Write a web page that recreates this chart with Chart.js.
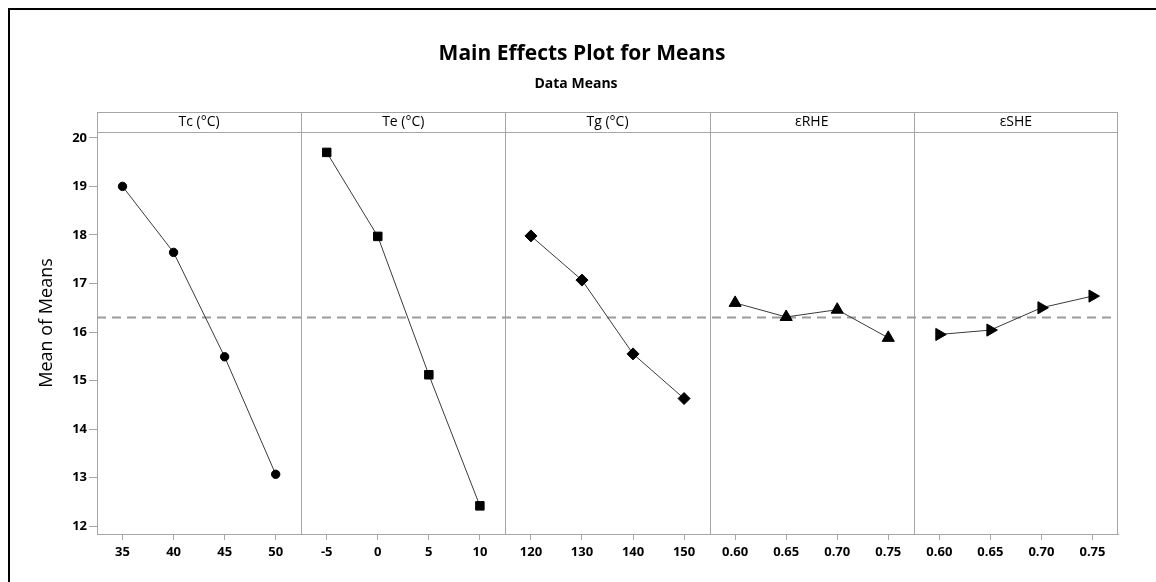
<!DOCTYPE html>
<html>
<head>
<meta charset="utf-8">
<script src="https://cdn.jsdelivr.net/npm/chart.js@4/dist/chart.umd.min.js"></script>
<style>
html,body{margin:0;padding:0;background:#fff;}
canvas{display:block;}
</style>
</head>
<body>
<canvas id="c" width="1156" height="582"></canvas>
<script>
// ---- data ----
const panelTitles = ['Tc (°C)', 'Te (°C)', 'Tg (°C)', 'εRHE', 'εSHE'];
const tcLevels  = ['35', '40', '45', '50'];
const tcMeans   = [19.00, 17.64, 15.49, 13.07];
const teLevels  = ['-5', '0', '5', '10'];
const teMeans   = [19.70, 17.97, 15.12, 12.42];
const tgLevels  = ['120', '130', '140', '150'];
const tgMeans   = [17.98, 17.07, 15.55, 14.63];
const rheLevels = ['0.60', '0.65', '0.70', '0.75'];
const rheMeans  = [16.60, 16.31, 16.46, 15.88];
const sheLevels = ['0.60', '0.65', '0.70', '0.75'];
const sheMeans  = [15.95, 16.04, 16.50, 16.74];
const grandMean = 16.30;
const yTicks = [12, 13, 14, 15, 16, 17, 18, 19, 20];

const levelSets = [tcLevels, teLevels, tgLevels, rheLevels, sheLevels];
const meanSets  = [tcMeans, teMeans, tgMeans, rheMeans, sheMeans];
const markerStyles = [
  {pointStyle: 'circle',   pointRadius: 4.2, rotation: 0},
  {pointStyle: 'rect',     pointRadius: 6,   rotation: 0},
  {pointStyle: 'rectRot',  pointRadius: 6,   rotation: 0},
  {pointStyle: 'triangle', pointRadius: 7,   rotation: 0},
  {pointStyle: 'triangle', pointRadius: 7,   rotation: 90}
];

const nLev = 4;
const xTickValues = [];
const xTickLabels = [];
levelSets.forEach((lv, p) => lv.forEach((l, j) => { xTickValues.push(p * nLev + j + 0.5); xTickLabels.push(l); }));

const datasets = meanSets.map((m, p) => ({
  data: m.map((v, j) => ({x: p * nLev + j + 0.5, y: v})),
  borderColor: '#3a3a3a',
  borderWidth: 1,
  pointStyle: markerStyles[p].pointStyle,
  pointRadius: markerStyles[p].pointRadius,
  pointRotation: markerStyles[p].rotation,
  pointBackgroundColor: '#000',
  pointBorderColor: '#000',
  pointBorderWidth: 1,
  tension: 0,
  order: 1
}));
datasets.push({
  data: [{x: 0, y: grandMean}, {x: levelSets.length * nLev, y: grandMean}],
  borderColor: '#9c9c9c',
  borderWidth: 2,
  borderDash: [9, 6],
  pointRadius: 0,
  order: 2
});

const GRID = '#a6a6a6';
const HEADER_H = 20;

const decor = {
  id: 'decor',
  beforeDatasetsDraw(chart) {
    const ctx = chart.ctx, a = chart.chartArea, xs = chart.scales.x;
    ctx.save();
    ctx.strokeStyle = GRID;
    ctx.lineWidth = 1;
    const top = a.top - HEADER_H;
    ctx.beginPath();
    ctx.moveTo(a.left, top + 0.5); ctx.lineTo(a.right, top + 0.5);
    ctx.moveTo(a.left, a.top + 0.5); ctx.lineTo(a.right, a.top + 0.5);
    ctx.moveTo(a.left + 0.5, top); ctx.lineTo(a.left + 0.5, a.bottom);
    ctx.moveTo(a.right - 0.5, top); ctx.lineTo(a.right - 0.5, a.bottom);
    for (let p = 1; p < levelSets.length; p++) {
      const px = Math.round(xs.getPixelForValue(p * nLev)) + 0.5;
      ctx.moveTo(px, top); ctx.lineTo(px, a.bottom);
    }
    ctx.stroke();
    ctx.fillStyle = '#000';
    ctx.font = '500 14px "Open Sans"';
    ctx.textAlign = 'center';
    ctx.textBaseline = 'middle';
    panelTitles.forEach((t, p) => {
      ctx.fillText(t, xs.getPixelForValue(p * nLev + nLev / 2), top + HEADER_H / 2);
    });
    ctx.restore();
  },
  afterDraw(chart) {
    const ctx = chart.ctx, a = chart.chartArea;
    ctx.save();
    // outer frame
    ctx.strokeStyle = '#000';
    ctx.lineWidth = 2;
    ctx.beginPath();
    ctx.moveTo(9, 582); ctx.lineTo(9, 9); ctx.lineTo(1156, 9);
    ctx.stroke();
    // titles
    ctx.fillStyle = '#000';
    ctx.textAlign = 'center';
    ctx.textBaseline = 'alphabetic';
    ctx.font = 'bold 21px "Open Sans"';
    ctx.fillText('Main Effects Plot for Means', 582, 60);
    ctx.font = 'bold 14px "Open Sans"';
    ctx.fillText('Data Means', 576, 88);
    // y title
    ctx.translate(47, (a.top - HEADER_H + a.bottom) / 2);
    ctx.rotate(-Math.PI / 2);
    ctx.textBaseline = 'middle';
    ctx.font = '18px "Open Sans"';
    ctx.fillText('Mean of Means', 0, 0);
    ctx.restore();
  }
};

new Chart(document.getElementById('c'), {
  type: 'line',
  data: {datasets},
  options: {
    responsive: false,
    animation: false,
    events: [],
    layout: {padding: {top: 132, right: 38, left: 0, bottom: 0}},
    plugins: {legend: {display: false}, tooltip: {enabled: false}, title: {display: false}},
    scales: {
      x: {
        type: 'linear',
        min: 0,
        max: levelSets.length * nLev,
        afterBuildTicks: s => { s.ticks = xTickValues.map(v => ({value: v})); },
        afterFit: s => { s.height = 48; },
        ticks: {
          autoSkip: false, maxRotation: 0, minRotation: 0,
          color: '#000', font: {family: '"Open Sans"', size: 13, weight: 'bold'},
          padding: 4,
          callback: (v, i) => xTickLabels[i]
        },
        grid: {drawOnChartArea: false, drawTicks: true, tickLength: 6, color: GRID},
        border: {display: true, color: GRID}
      },
      y: {
        type: 'linear',
        min: 11.84,
        max: 20.12,
        afterBuildTicks: s => { s.ticks = yTicks.map(v => ({value: v})); },
        afterFit: s => { s.width = 97; },
        ticks: {
          color: '#000', font: {family: '"Open Sans"', size: 13, weight: 'bold'},
          padding: 2,
          callback: v => String(v)
        },
        grid: {drawOnChartArea: false, drawTicks: true, tickLength: 8, color: GRID},
        border: {display: true, color: GRID}
      }
    }
  },
  plugins: [decor]
});
</script>
</body>
</html>
